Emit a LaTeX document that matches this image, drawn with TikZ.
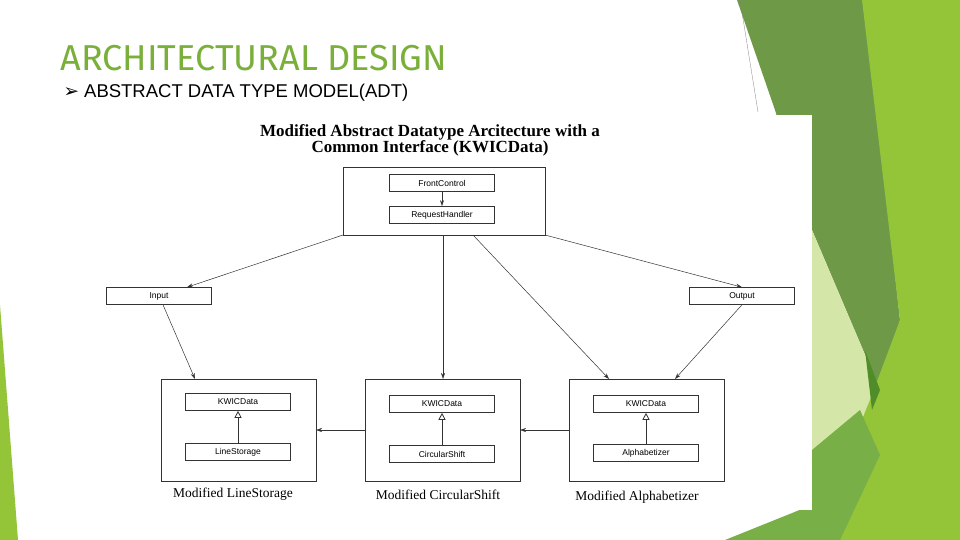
\documentclass[tikz,border=0pt]{standalone}
\usepackage{fontspec}
\setmainfont{Liberation Serif}
\setsansfont{Liberation Sans}
\newfontfamily\titlefont{Fira Sans}
\newfontfamily\symfont{DejaVu Sans}
\usetikzlibrary{arrows.meta}
\definecolor{slide_green}{RGB}{122, 176, 58}
\definecolor{leaf_dark}{RGB}{110, 154, 72}
\definecolor{leaf_mid}{RGB}{120, 175, 70}
\definecolor{leaf_light}{RGB}{148, 196, 56}
\definecolor{leaf_pale}{RGB}{212, 230, 168}
\definecolor{leaf_deep}{RGB}{80, 140, 40}
\tikzstyle{cls}=[draw=black!80,fill=white,line width=0.6pt,minimum width=105pt,
  minimum height=17pt,inner sep=0pt,font=\sffamily\fontsize{8.5}{9}\selectfont]
\tikzstyle{pkg}=[draw=black!80,line width=0.7pt,inner sep=0pt]
\tikzstyle{pkgcap}=[font=\fontsize{13.5}{14}\selectfont]
\tikzstyle{flow}=[-{Stealth[length=6pt,width=4pt]},line width=0.5pt,black!80]
\tikzstyle{isa}=[-{Triangle[open,length=7pt,width=7pt]},line width=0.8pt,black!80]

\begin{document}
\begin{tikzpicture}[x=1pt,y=-1pt]
            \useasboundingbox (0,0) rectangle (960,540);
            \fill[white] (0,0) rectangle (960,540);
            % green facets
            \fill[leaf_dark] (737,0) -- (865,0) -- (900,320) -- (880,390) -- (812,230) -- (775,110) -- cycle;
            \fill[leaf_pale] (812,230) -- (880,390) -- (860,420) -- (812,450) -- cycle;
            \fill[leaf_light] (862,0) -- (960,0) -- (960,540) -- (812,540) -- (870,400) -- (900,320) -- cycle;
            \fill[leaf_deep] (865,350) -- (880,390) -- (872,410) -- cycle;
            \fill[leaf_mid] (812,450) -- (860,410) -- (880,455) -- (840,540) -- (725,540) -- (812,505) -- cycle;
            \fill[leaf_light] (0,305) -- (18,540) -- (0,540) -- cycle;
            \draw[gray,line width=0.3pt] (740,0) -- (758,112);
            \fill[white] (150,115) rectangle (812,510);
            % heading
            \node[anchor=west,text=slide_green,font=\titlefont\fontsize{36}{38}\selectfont] (heading) at (57,58) {ARCHITECTURAL DESIGN};
            \node[anchor=west,font=\sffamily\fontsize{18.5}{20}\selectfont] (subhead) at (60,93) {{\symfont ➢} ABSTRACT DATA TYPE MODEL(ADT)};
            \node[align=center,font=\bfseries\fontsize{17}{16}\selectfont] (dtitle) at (430,140) {Modified Abstract Datatype Arcitecture with a\\Common Interface (KWICData)};
            % packages
            \draw[pkg] (343,167) rectangle (545,235);
            \draw[pkg] (161,379) rectangle (316,481);
            \draw[pkg] (365,379) rectangle (520,481);
            \draw[pkg] (569,379) rectangle (724,481);
            \coordinate (topsw) at (343,235);
            \coordinate (topse) at (545,235);
            \coordinate (tops) at (443,235);
            \coordinate (topsr) at (473,235);
            \coordinate (lsn) at (195,379);
            \coordinate (csn) at (443,379);
            \coordinate (aln) at (609,379);
            \coordinate (aln2) at (675,379);
            \coordinate (lse) at (316,430);
            \coordinate (csw) at (365,430);
            \coordinate (cse) at (520,430);
            \coordinate (alw) at (569,430);
            % classes
            \node[cls] (front) at (442,183) {FrontControl};
            \node[cls] (req) at (442,215) {RequestHandler};
            \node[cls] (input) at (159,296) {Input};
            \node[cls] (output) at (742,296) {Output};
            \node[cls] (kw1) at (238,402) {KWICData};
            \node[cls] (line) at (238,452) {LineStorage};
            \node[cls] (kw2) at (442,404) {KWICData};
            \node[cls] (circ) at (442,454) {CircularShift};
            \node[cls] (kw3) at (646,404) {KWICData};
            \node[cls] (alpha) at (646,453) {Alphabetizer};
            \node[pkgcap] (lscap) at (233,494) {Modified LineStorage};
            \node[pkgcap] (cscap) at (438,495) {Modified CircularShift};
            \node[pkgcap] (alcap) at (637,497) {Modified Alphabetizer};
            % connectors
            \draw[flow] (front) to (req);
            \draw[flow] (topsw) to ([xshift=28pt]input.north);
            \draw[flow] (topse) to (output.north);
            \draw[flow] (tops) to (csn);
            \draw[flow] (topsr) to (aln);
            \draw[flow] ([xshift=4pt]input.south) to (lsn);
            \draw[flow] (output.south) to (aln2);
            \draw[flow] (csw) to (lse);
            \draw[flow] (alw) to (cse);
            \draw[isa] (line) to (kw1);
            \draw[isa] (circ) to (kw2);
            \draw[isa] (alpha) to (kw3);
    \end{tikzpicture}
\end{document}
